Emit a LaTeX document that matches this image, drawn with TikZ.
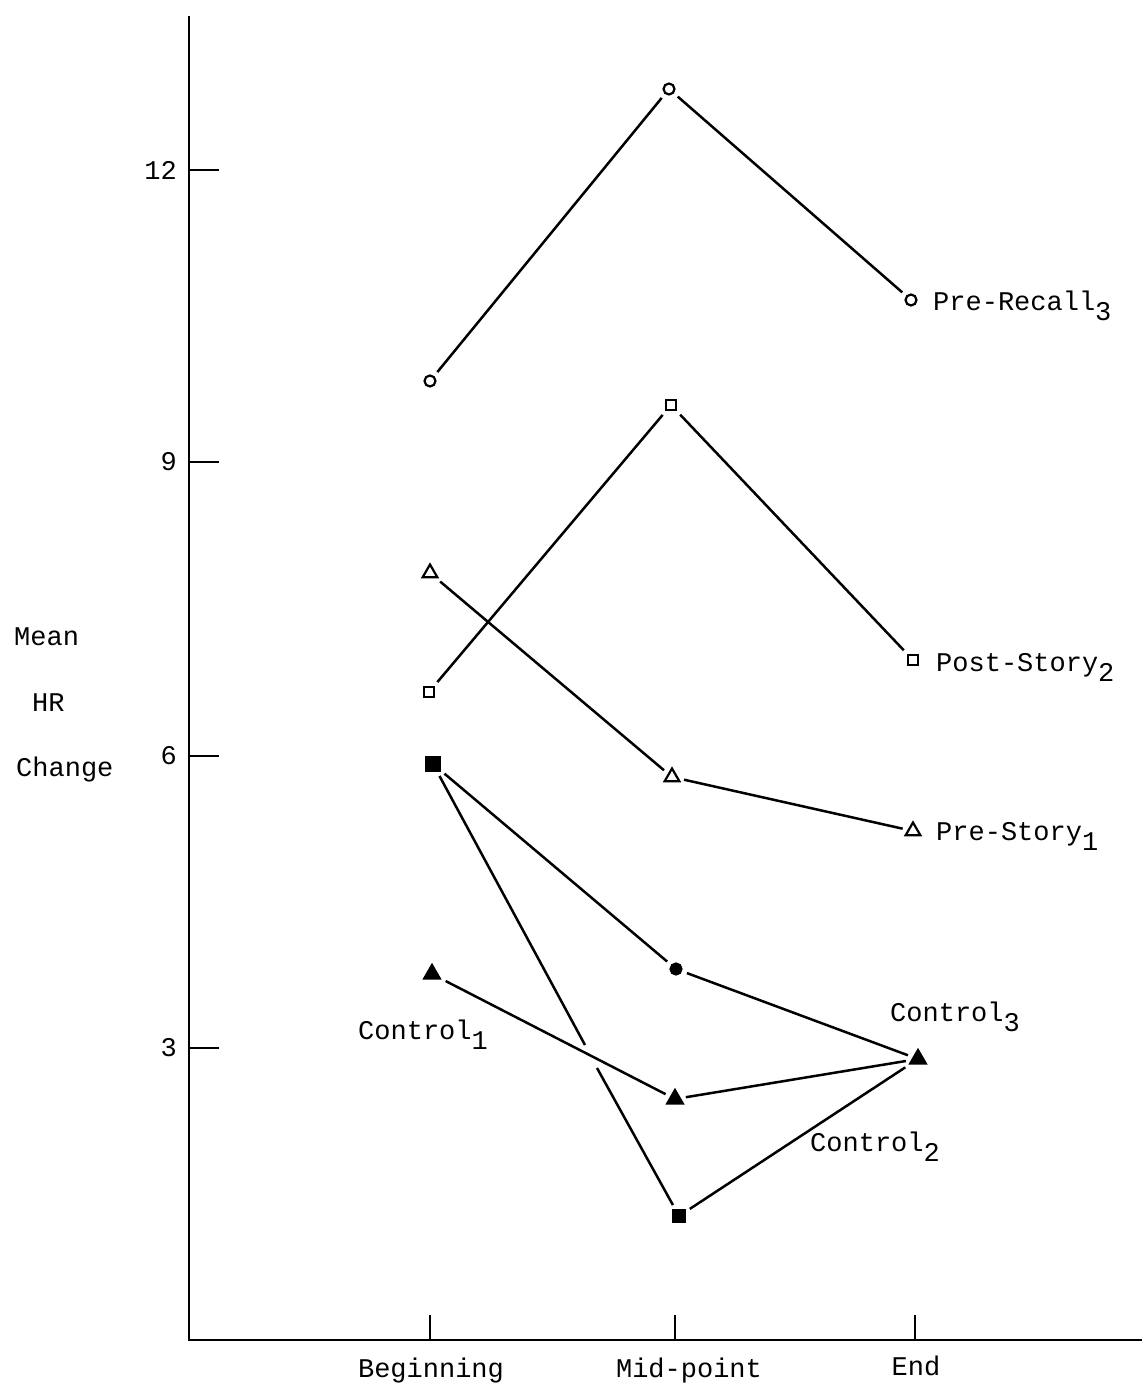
\documentclass[tikz,border=0pt]{standalone}
\usepackage{fontspec}
\setmainfont{Liberation Mono}
\usetikzlibrary{shapes.geometric}
\newcommand{\sbs}[1]{\raisebox{-0.75ex}{#1}}
\begin{document}
\begin{tikzpicture}[x=1pt,y=-1pt,
  every node/.style={font=\fontsize{27}{30}\selectfont},
  axisline/.style={line width=2.6pt},
  dataline/.style={line width=2.5pt, shorten <=5pt, shorten >=5pt},
  mk/.style={inner sep=0pt, line width=2.2pt, draw},
  ocirc/.style={mk, circle, minimum size=11pt},
  osq/.style={mk, rectangle, minimum size=10pt},
  otri/.style={mk, regular polygon, regular polygon sides=3, minimum size=17pt},
  fcirc/.style={mk, circle, fill, minimum size=11pt},
  fsq/.style={mk, rectangle, fill, minimum size=13pt},
  ftri/.style={mk, regular polygon, regular polygon sides=3, fill, minimum size=18pt},
  lbl/.style={anchor=base west, inner sep=0pt}
]
\useasboundingbox (0,0) rectangle (1142,1388);
% axes
\coordinate (ytop) at (189,16);
\coordinate (orig) at (189,1340);
\coordinate (xend) at (1142,1340);
\draw[axisline] (ytop) -- (orig) -- (xend);
% y ticks
\foreach \v/\y in {12/170, 9/462, 6/756, 3/1048}{
  \coordinate (yt\v) at (189,\y);
  \coordinate (yte\v) at (219,\y);
  \draw[line width=2.4pt] (yt\v) -- (yte\v);
  \node[anchor=east, inner sep=0pt] (yl\v) at (177,\y) {\v};
}
% x ticks
\foreach \n/\x in {b/430, m/675, e/915}{
  \coordinate (xt\n) at (\x,1340);
  \coordinate (xte\n) at (\x,1315);
  \draw[line width=2.4pt] (xt\n) -- (xte\n);
}
\node[anchor=base] (lb) at (431,1377) {Beginning};
\node[anchor=base] (lm) at (689,1377) {Mid-point};
\node[anchor=base] (le) at (916,1375) {End};
% y label
\node[lbl] (ym) at (14,645) {Mean};
\node[lbl] (yh) at (32,711) {HR};
\node[lbl] (yc) at (16,776) {Change};
% markers
\node[ocirc] (p1) at (430,381) {};
\node[ocirc] (p2) at (669,89) {};
\node[ocirc] (p3) at (911,300) {};
\node[osq] (s1) at (429,692) {};
\node[osq] (s2) at (671,405) {};
\node[osq] (s3) at (913,660) {};
\node[otri] (t1) at (430,573) {};
\node[otri] (t2) at (672,777) {};
\node[otri] (t3) at (913,831) {};
\node[fsq] (c0) at (433,764) {};
\node[fcirc] (cm) at (676,969) {};
\node[fsq, minimum size=11pt] (cq) at (679,1216) {};
\node[ftri] (ca) at (432,974) {};
\node[ftri] (cb) at (675,1099) {};
\node[ftri] (ce) at (918,1059) {};
\coordinate (gapA) at (585,1045);
\coordinate (gapB) at (597,1068);
% lines
\draw[dataline] (p1) -- (p2);
\draw[dataline] (p2) -- (p3);
\draw[dataline] (s1) -- (s2);
\draw[dataline] (s2) -- (s3);
\draw[dataline] (t1) -- (t2);
\draw[dataline] (t2) -- (t3);
\draw[dataline] (c0) -- (cm);
\draw[dataline] (cm) -- (ce);
\draw[dataline, shorten >=0pt] (c0) -- (gapA);
\draw[dataline, shorten <=0pt] (gapB) -- (cq);
\draw[dataline] (cq) -- (ce);
\draw[dataline] (ca) -- (cb);
\draw[dataline] (cb) -- (ce);
% series labels
\node[lbl] (lpr) at (933,310) {Pre-Recall\sbs{3}};
\node[lbl] (lps) at (936,671) {Post-Story\sbs{2}};
\node[lbl] (lpy) at (936,840) {Pre-Story\sbs{1}};
\node[lbl] (lc1) at (358,1039) {Control\sbs{1}};
\node[lbl] (lc3) at (890,1021) {Control\sbs{3}};
\node[lbl] (lc2) at (810,1151) {Control\sbs{2}};
\end{tikzpicture}
\end{document}
